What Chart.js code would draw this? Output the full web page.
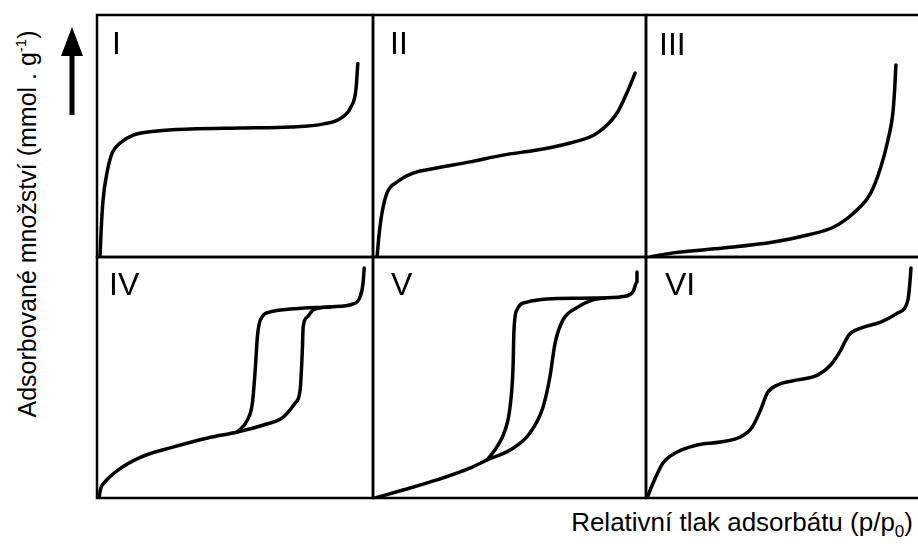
<!DOCTYPE html>
<html>
<head>
<meta charset="utf-8">
<script src="https://cdn.jsdelivr.net/npm/chart.js@4/dist/chart.umd.min.js"></script>
<style>
html,body{margin:0;padding:0;background:#fff;width:918px;height:549px;overflow:hidden;position:relative;font-family:"Liberation Sans",Arial,sans-serif;color:#000;}
.pan{position:absolute;}
.lab{position:absolute;line-height:1;white-space:nowrap;}
#ytitle{position:absolute;left:27px;top:224px;font-size:25px;white-space:nowrap;transform:translate(-50%,-50%) rotate(-90deg);line-height:1;}
#xtitle{position:absolute;right:5px;top:508px;font-size:26px;white-space:nowrap;line-height:1.1;}
sup{font-size:15px;vertical-align:super;line-height:0}
sub{font-size:17px;vertical-align:sub;line-height:0}
</style>
</head>
<body>
<script>
// ---------- data (relative pressure x 0..1, relative amount y 0..1) ----------
const panelLabels = ["I","II","III","IV","V","VI"];

const typeI_x = [0.011,0.015,0.022,0.036,0.055,0.084,0.131,0.218,0.338,0.520,0.702,0.822,0.884,0.920,0.938,0.945];
const typeI_y = [0.000,0.110,0.236,0.347,0.430,0.471,0.504,0.521,0.529,0.533,0.537,0.550,0.574,0.620,0.690,0.800];

const typeII_x = [0.015,0.022,0.033,0.051,0.088,0.147,0.234,0.355,0.476,0.601,0.722,0.821,0.894,0.930,0.960];
const typeII_y = [0.000,0.090,0.182,0.264,0.310,0.347,0.368,0.393,0.421,0.442,0.471,0.512,0.595,0.678,0.760];

const typeIII_x = [0.015,0.099,0.282,0.465,0.590,0.685,0.758,0.820,0.857,0.883,0.901,0.908,0.912];
const typeIII_y = [0.000,0.017,0.037,0.062,0.091,0.124,0.182,0.264,0.372,0.483,0.595,0.702,0.793];

const typeIVads_x = [0.007,0.014,0.025,0.076,0.159,0.278,0.401,0.509,0.603,0.675,0.718,0.736,0.744,0.747,0.762,0.783,0.845,0.928,0.953,0.964,0.968];
const typeIVads_y = [0.000,0.041,0.062,0.116,0.170,0.212,0.249,0.274,0.303,0.336,0.394,0.448,0.614,0.710,0.751,0.780,0.793,0.805,0.834,0.892,0.954];
const typeIVdes_x = [0.509,0.545,0.563,0.574,0.581,0.592,0.628,0.700,0.845];
const typeIVdes_y = [0.274,0.324,0.394,0.544,0.668,0.739,0.772,0.784,0.793];

const typeVads_x = [0.007,0.110,0.234,0.355,0.418,0.502,0.575,0.623,0.648,0.667,0.696,0.747,0.800,0.850,0.916,0.952,0.967,0.967];
const typeVads_y = [0.000,0.033,0.075,0.124,0.158,0.199,0.270,0.378,0.502,0.643,0.739,0.790,0.820,0.830,0.836,0.855,0.896,0.938];
const typeVdes_x = [0.418,0.454,0.484,0.502,0.513,0.516,0.527,0.564,0.637,0.760,0.850];
const typeVdes_y = [0.158,0.212,0.282,0.378,0.544,0.685,0.780,0.813,0.826,0.829,0.830];

const typeVI_x = [0.004,0.026,0.062,0.114,0.187,0.271,0.344,0.388,0.418,0.443,0.480,0.553,0.626,0.674,0.711,0.740,0.784,0.857,0.919,0.956,0.963,0.967];
const typeVI_y = [0.000,0.062,0.145,0.191,0.220,0.232,0.253,0.295,0.365,0.436,0.469,0.490,0.510,0.552,0.614,0.676,0.705,0.730,0.768,0.822,0.892,0.954];

// ---------- layout ----------
const colEdges = [97, 373, 646, 920];
const rowEdges = [15, 257, 498];
const panelSeries = [
  [[typeI_x, typeI_y]],
  [[typeII_x, typeII_y]],
  [[typeIII_x, typeIII_y]],
  [[typeIVads_x, typeIVads_y],[typeIVdes_x, typeIVdes_y]],
  [[typeVads_x, typeVads_y],[typeVdes_x, typeVdes_y]],
  [[typeVI_x, typeVI_y]]
];
const labelPos = [
  {left:112, top:27},
  {left:390, top:27},
  {left:659, top:28},
  {left:109, top:268},
  {left:391, top:268},
  {left:665, top:268}
];

const framePlugin = {
  id:'frame',
  afterDraw(chart){
    const a = chart.chartArea, ctx = chart.ctx;
    ctx.save();
    ctx.strokeStyle = '#000';
    ctx.lineWidth = 2.5;
    ctx.strokeRect(a.left, a.top, a.right - a.left, a.bottom - a.top);
    ctx.restore();
  }
};

const PAD = 3;
for (let i = 0; i < 6; i++) {
  const c = i % 3, r = Math.floor(i / 3);
  const L = colEdges[c], R = colEdges[c+1], T = rowEdges[r], B = rowEdges[r+1];
  const div = document.createElement('div');
  div.className = 'pan';
  div.style.left = (L - PAD) + 'px';
  div.style.top = (T - PAD) + 'px';
  const cv = document.createElement('canvas');
  cv.width = (R - L) + 2*PAD;
  cv.height = (B - T) + 2*PAD;
  cv.style.width = cv.width + 'px';
  cv.style.height = cv.height + 'px';
  div.appendChild(cv);
  document.body.appendChild(div);

  const datasets = panelSeries[i].map(([xs, ys]) => ({
    data: xs.map((x, k) => ({x: x, y: ys[k]})),
    showLine: true,
    borderColor: '#000',
    borderWidth: 3.5,
    pointRadius: 0,
    fill: false,
    cubicInterpolationMode: 'monotone',
    borderCapStyle: 'round',
    borderJoinStyle: 'round'
  }));

  new Chart(cv, {
    type: 'scatter',
    data: { datasets },
    options: {
      responsive: false,
      animation: false,
      events: [],
      layout: { padding: PAD },
      plugins: { legend: {display:false}, tooltip: {enabled:false}, title:{display:false} },
      scales: {
        x: { type:'linear', min:0, max:1, display:false },
        y: { type:'linear', min:0, max:1, display:false }
      }
    },
    plugins: [framePlugin]
  });

  const lab = document.createElement('div');
  lab.className = 'lab';
  lab.textContent = panelLabels[i];
  lab.style.left = labelPos[i].left + 'px';
  lab.style.top = labelPos[i].top + 'px';
  lab.style.fontSize = '32px';
  document.body.appendChild(lab);
}
</script>
<div id="ytitle">Adsorbované množství (mmol . g<sup>-1</sup>)</div>
<div id="xtitle">Relativní tlak adsorbátu (p/p<sub>0</sub>)</div>
<svg style="position:absolute;left:60px;top:25px" width="26" height="92" viewBox="0 0 26 92">
  <polygon points="12,2 23,31 1,31" fill="#000"/>
  <rect x="9.5" y="30" width="5" height="60" fill="#000"/>
</svg>
</body>
</html>
